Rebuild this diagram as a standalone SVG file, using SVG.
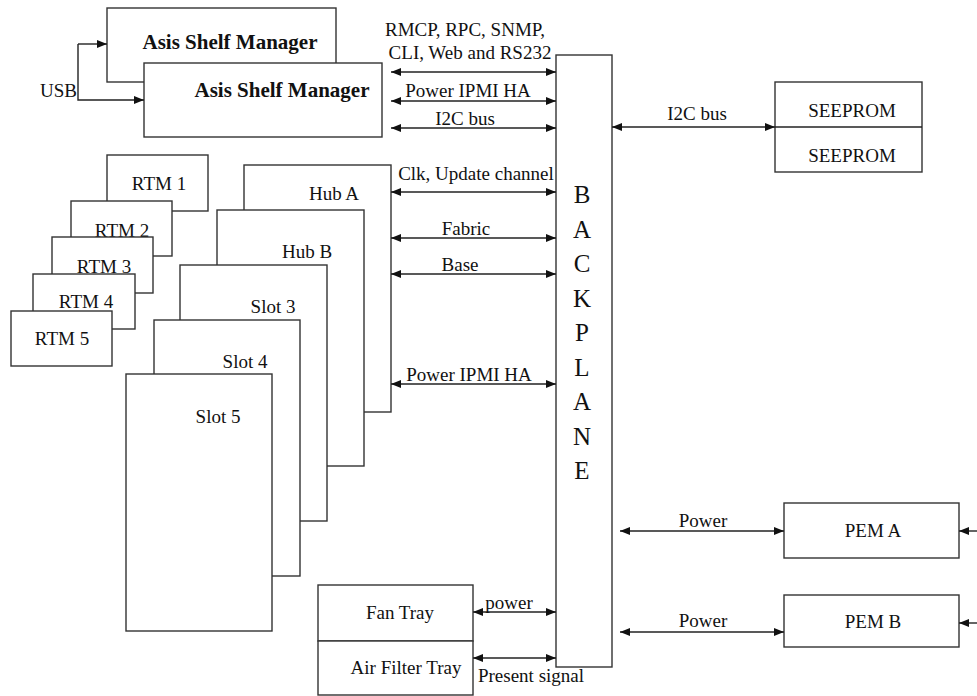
<svg xmlns="http://www.w3.org/2000/svg" width="977" height="696" viewBox="0 0 977 696">
<defs>
<style>
.box{fill:#fff;stroke:#333;stroke-width:1.4}
.ln{fill:none;stroke:#222;stroke-width:1.4}
.c{stroke:#222;stroke-width:1.4;fill:none;marker-end:url(#ah)}
.d{stroke:#222;stroke-width:1.4;fill:none;marker-start:url(#ah);marker-end:url(#ah)}
text{font-family:'Liberation Serif','Times New Roman',Tinos,'DejaVu Serif',serif;font-size:19px;fill:#111}
.m{text-anchor:middle}
.b{font-weight:bold;font-size:21px}
.bp{font-size:25px;text-anchor:middle}
</style>
<marker id="ah" viewBox="0 0 10 8" refX="10" refY="4" markerWidth="10" markerHeight="8" markerUnits="userSpaceOnUse" orient="auto-start-reverse">
<path d="M0,0 L10,4 L0,8 z" fill="#111"/>
</marker>
</defs>
<rect width="977" height="696" fill="#fff"/>
<g font-family="Liberation Serif, Times New Roman, serif">
<g id="shelf-manager-1"><rect class="box" x="107" y="8" width="229" height="74"/><text class="m b" x="230" y="49">Asis Shelf Manager</text></g>
<g id="shelf-manager-2"><rect class="box" x="144" y="63" width="238" height="74"/><text class="m b" x="282" y="97">Asis Shelf Manager</text></g>

<g id="backplane"><rect class="box" x="556" y="55" width="56" height="612"/>
<text class="bp" x="582" y="203">B</text>
<text class="bp" x="582" y="237.5">A</text>
<text class="bp" x="582" y="272">C</text>
<text class="bp" x="582" y="306.5">K</text>
<text class="bp" x="582" y="341">P</text>
<text class="bp" x="582" y="375.5">L</text>
<text class="bp" x="582" y="410">A</text>
<text class="bp" x="582" y="444.5">N</text>
<text class="bp" x="582" y="479">E</text>
</g>

<g id="seeprom"><rect class="box" x="775" y="82" width="147" height="90"/><line class="ln" x1="775" y1="127" x2="922" y2="127"/>
<text class="m" x="852" y="117">SEEPROM</text><text class="m" x="852" y="162">SEEPROM</text></g>

<g id="rtm1"><rect class="box" x="107" y="155" width="101" height="56"/><text class="m" x="159" y="190">RTM 1</text></g>
<g id="rtm2"><rect class="box" x="71" y="201" width="101" height="55"/><text class="m" x="122" y="237">RTM 2</text></g>
<g id="rtm3"><rect class="box" x="52" y="237" width="101" height="56"/><text class="m" x="104" y="273">RTM 3</text></g>
<g id="rtm4"><rect class="box" x="33" y="274" width="102" height="55"/><text class="m" x="86" y="308">RTM 4</text></g>
<g id="rtm5"><rect class="box" x="11" y="311" width="101" height="55"/><text class="m" x="62" y="345">RTM 5</text></g>

<g id="hub-a"><rect class="box" x="244" y="165" width="147" height="247"/><text class="m" x="334" y="200">Hub A</text></g>
<g id="hub-b"><rect class="box" x="217" y="210" width="147" height="256"/><text class="m" x="307" y="258">Hub B</text></g>
<g id="slot-3"><rect class="box" x="180" y="265" width="147" height="256"/><text class="m" x="273" y="313">Slot 3</text></g>
<g id="slot-4"><rect class="box" x="154" y="320" width="146" height="256"/><text class="m" x="245" y="368">Slot 4</text></g>
<g id="slot-5"><rect class="box" x="126" y="374" width="146" height="257"/><text class="m" x="218" y="423">Slot 5</text></g>

<g id="fan-tray"><rect class="box" x="318" y="585" width="155" height="56"/><text class="m" x="400" y="619">Fan Tray</text></g>
<g id="air-filter-tray"><rect class="box" x="318" y="641" width="155" height="54"/><text class="m" x="406" y="674">Air Filter Tray</text></g>

<g id="pem-a"><rect class="box" x="784" y="503" width="175" height="55"/><text class="m" x="873" y="537">PEM A</text></g>
<g id="pem-b"><rect class="box" x="784" y="595" width="175" height="52"/><text class="m" x="873" y="628">PEM B</text></g>

<g id="connectors">
<path class="c" d="M78,44 H107"/>
<path class="c" d="M78,44 V100 H144"/>
<text x="77" y="97" text-anchor="end">USB</text>

<line class="d" x1="391" y1="72" x2="556" y2="72"/>
<line class="d" x1="391" y1="101" x2="556" y2="101"/>
<line class="d" x1="391" y1="128" x2="556" y2="128"/>
<text class="m" x="465" y="36">RMCP, RPC, SNMP,</text>
<text class="m" x="470" y="59">CLI, Web and RS232</text>
<text class="m" x="468" y="97">Power IPMI HA</text>
<text class="m" x="465" y="125">I2C bus</text>

<line class="d" x1="612" y1="127" x2="775" y2="127"/>
<text class="m" x="697" y="120">I2C bus</text>

<line class="d" x1="391" y1="192" x2="556" y2="192"/>
<line class="d" x1="391" y1="238" x2="556" y2="238"/>
<line class="d" x1="391" y1="274" x2="556" y2="274"/>
<line class="d" x1="391" y1="384" x2="556" y2="384"/>
<text class="m" x="476" y="180">Clk, Update channel</text>
<text class="m" x="466" y="235">Fabric</text>
<text class="m" x="460" y="271">Base</text>
<text class="m" x="469" y="381">Power IPMI HA</text>

<line class="d" x1="473" y1="612" x2="556" y2="612"/>
<line class="d" x1="473" y1="658" x2="556" y2="658"/>
<text class="m" x="509" y="609">power</text>
<text class="m" x="531" y="682">Present signal</text>

<line class="d" x1="620" y1="531" x2="784" y2="531"/>
<line class="d" x1="620" y1="632" x2="784" y2="632"/>
<text class="m" x="703" y="527">Power</text>
<text class="m" x="703" y="627">Power</text>
<line class="c" x1="977" y1="531" x2="959" y2="531"/>
<line class="c" x1="977" y1="623" x2="959" y2="623"/>
</g>
</g>
</svg>
